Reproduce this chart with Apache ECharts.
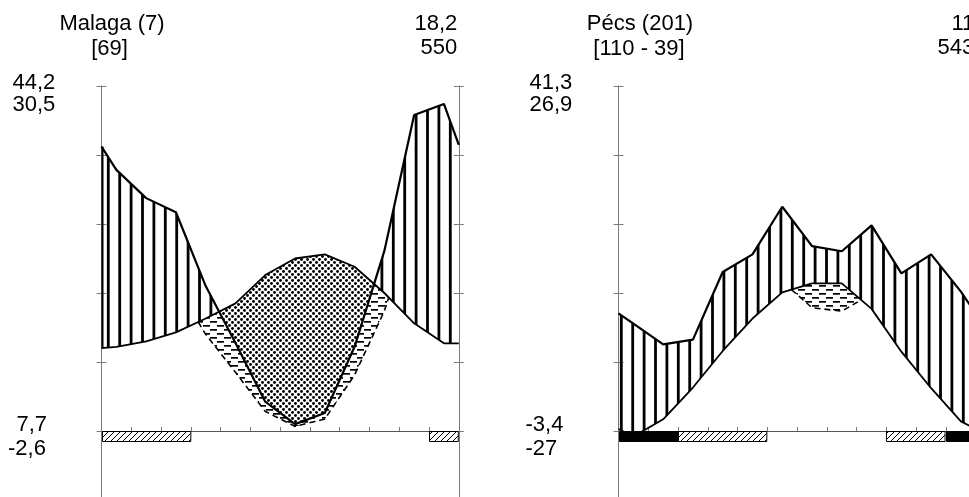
<!DOCTYPE html>
<html><head><meta charset="utf-8">
<script src="https://cdn.jsdelivr.net/npm/echarts@6/dist/echarts.min.js"></script>
<style>html,body{margin:0;padding:0;background:#fff}#c{width:969px;height:497px}</style>
</head><body><div id="c"></div>
<script>
// ---------- data ----------
const months = ['Jan','Feb','Mar','Apr','May','Jun','Jul','Aug','Sep','Oct','Nov','Dec'];
const tempTicks = [-10, 0, 10, 20, 30, 40, 50];

// Malaga
const malagaTemp = [12.2, 13.0, 14.3, 16.3, 18.5, 22.6, 25.0, 25.6, 23.8, 20.0, 15.6, 12.7];
const malagaTempEdges = [12.0, 12.7];
const malagaPrec = [75.7, 67.5, 63.4, 42.0, 25.5, 8.5, 2.0, 5.2, 24.4, 52.2, 91.6, 94.8];
const malagaPrecEdges = [82.4, 82.9];
const malagaFrostBlack = [0,0,0,0,0,0,0,0,0,0,0,0];
const malagaFrostHatched = [1,1,1,0,0,0,0,0,0,0,0,1];
const malagaHeader = ['Malaga (7)', '[69]'];
const malagaAnnual = ['18,2', '550'];
const malagaExtremes = ['44,2', '30,5', '7,7', '-2,6'];

// Pécs
const pecsTemp = [-0.8, 1.7, 6.3, 11.6, 16.3, 20.1, 21.4, 21.4, 17.7, 11.5, 6.2, 1.4];
const pecsTempEdges = [0.3, 0.3];
const pecsPrec = [31.1, 25.1, 26.5, 46.1, 51.2, 65.0, 53.6, 52.1, 59.6, 45.7, 51.2, 40.4];
const pecsPrecEdges = [34.1, 34.0];
const pecsFrostBlack = [1,1,0,0,0,0,0,0,0,0,0,1];
const pecsFrostHatched = [0,0,1,1,1,0,0,0,0,1,1,0];
const pecsHeader = ['Pécs (201)', '[110 - 39]'];
const pecsAnnual = ['11', '543'];
const pecsExtremes = ['41,3', '26,9', '-3,4', '-27'];

// ---------- patterns ----------
function mk(w, h, draw) { const c = document.createElement('canvas'); c.width = w; c.height = h; const g = c.getContext('2d'); draw(g); return c; }
const patV = mk(57, 8, g => { g.fillStyle = '#000'; for (let k = 0; k < 5; k++) { const cx = 5.7 + 11.4 * k; g.fillRect(cx - 1.4, 0, 2.8, 8); } });
const patDots = mk(6, 6, g => { g.fillStyle = '#000';
  [[1.5, 1.5], [4.5, 4.5]].forEach(p => { g.beginPath(); g.arc(p[0], p[1], 1.45, 0, Math.PI * 2); g.fill(); }); });
const patDash = mk(14, 8, g => { g.fillStyle = '#000'; g.fillRect(0, 1, 7, 1.7); g.fillRect(7, 5, 7, 1.7); });
const patDiag = mk(6, 6, g => { g.strokeStyle = '#000'; g.lineWidth = 1; g.beginPath(); g.moveTo(0, 6); g.lineTo(6, 0); g.moveTo(-1, 1); g.lineTo(1, -1); g.moveTo(5, 7); g.lineTo(7, 5); g.stroke(); });
const pat = c => ({ image: c, repeat: 'repeat' });

// ---------- geometry helpers ----------
function pts(vals, edges) { const p = [[0, edges[0]]]; vals.forEach((v, i) => p.push([i + 0.5, v])); p.push([months.length, edges[1]]); return p; }
function interp(curve, x) {
  for (let i = 0; i < curve.length - 1; i++) {
    const a = curve[i], b = curve[i + 1];
    if (x >= a[0] - 1e-12 && x <= b[0] + 1e-12) { const t = (x - a[0]) / (b[0] - a[0]); return a[1] + t * (b[1] - a[1]); }
  }
  return curve[curve.length - 1][1];
}
function breakpoints(curves) {
  const xs = curves[0].map(p => p[0]);
  const out = xs.slice();
  for (let i = 0; i < xs.length - 1; i++) {
    for (let a = 0; a < curves.length; a++) for (let b = a + 1; b < curves.length; b++) {
      const d0 = curves[a][i][1] - curves[b][i][1], d1 = curves[a][i + 1][1] - curves[b][i + 1][1];
      if (d0 * d1 < 0) { const t = d0 / (d0 - d1); out.push(xs[i] + t * (xs[i + 1] - xs[i])); }
    }
  }
  return out.sort((p, q) => p - q);
}
function regions(xs, top, bot) {
  const polys = [], bottoms = [];
  let run = null;
  for (let i = 0; i < xs.length - 1; i++) {
    const xm = (xs[i] + xs[i + 1]) / 2;
    const on = top(xm) - bot(xm) > 1e-9;
    if (on) { if (!run) run = [i, i + 1]; else run[1] = i + 1; }
    if ((!on || i === xs.length - 2) && run) {
      const tp = [], bp = [];
      for (let k = run[0]; k <= run[1]; k++) { tp.push([xs[k], top(xs[k])]); bp.push([xs[k], bot(xs[k])]); }
      polys.push(tp.concat(bp.slice().reverse()));
      bottoms.push(bp);
      run = null;
    }
  }
  return { polys, bottoms };
}
function runsOf(flags) {
  const r = []; let s = -1;
  flags.forEach((f, i) => { if (f && s < 0) s = i; if ((!f || i === flags.length - 1) && s >= 0) { r.push([s, f ? i + 1 : i]); s = -1; } });
  return r;
}

// ---------- panels ----------
const axisCol = '#7a7a7a';
const FONT = '22px "Liberation Sans", Arial, sans-serif';
const option = { animation: false, backgroundColor: '#fff', grid: [], xAxis: [], yAxis: [], series: [], graphic: [] };

function addPanel(p, left, d) {
  const W = 357.3, TOP = 86, H = 345, HB = 414;
  const T = pts(d.temp, d.tempEdges);
  const P2 = pts(d.prec.map(v => v / 2), d.precEdges.map(v => v / 2));   // 10 °C = 20 mm
  const P3 = pts(d.prec.map(v => v / 3), d.precEdges.map(v => v / 3));   // 10 °C = 30 mm
  const xs = breakpoints([T, P2, P3]);
  const fT = x => interp(T, x), fP2 = x => interp(P2, x), fP3 = x => interp(P3, x);
  const humid = regions(xs, fP2, fT);
  const dry = regions(xs, fT, fP2);
  const semi = regions(xs, x => Math.min(fT(x), fP2(x)), fP3);

  const gA = 2 * p, gB = 2 * p + 1, yA = 5 * p;
  option.grid.push({ left: left, top: TOP, width: W, height: H, outerBoundsMode: 'none' });
  option.grid.push({ left: left, top: TOP, width: W, height: HB, outerBoundsMode: 'none' });
  option.xAxis.push({ type: 'value', gridIndex: gA, min: 0, max: 12, interval: 1,
    axisLine: { show: true, onZero: false, lineStyle: { color: '#555', width: 1 } },
    axisTick: { show: true, inside: true, length: 4, lineStyle: { color: axisCol } },
    axisLabel: { show: false }, splitLine: { show: false } });
  option.xAxis.push({ type: 'value', gridIndex: gB, min: 0, max: 12, show: false });
  option.yAxis.push({ type: 'value', gridIndex: gA, min: 0, max: 50, interval: 10, show: false });
  const yAx = (pos, inside, line) => ({ type: 'value', gridIndex: gB, position: pos, offset: 0,
    min: tempTicks[0], max: tempTicks[tempTicks.length - 1], interval: 10,
    axisLine: { show: line, onZero: false, lineStyle: { color: axisCol, width: 1 } },
    axisTick: { show: true, inside: inside, length: 5, lineStyle: { color: axisCol, width: 1 } },
    axisLabel: { show: false }, splitLine: { show: false } });
  option.yAxis.push(yAx('left', false, true), yAx('left', true, false), yAx('right', false, true), yAx('right', true, false));

  option.series.push({
    type: 'custom', xAxisIndex: gA, yAxisIndex: yA, clip: true, silent: true, data: [[0, 0]],
    renderItem: (params, api) => {
      const c = q => q.map(pt => api.coord(pt));
      const ch = [];
      humid.polys.forEach(poly => ch.push({ type: 'polygon', shape: { points: c(poly) }, style: { fill: pat(patV) } }));
      dry.polys.forEach(poly => ch.push({ type: 'polygon', shape: { points: c(poly) }, style: { fill: pat(patDots) } }));
      semi.polys.forEach(poly => ch.push({ type: 'polygon', shape: { points: c(poly) }, style: { fill: pat(patDash) } }));
      semi.bottoms.forEach(b => ch.push({ type: 'polyline', shape: { points: c(b) }, style: { stroke: '#000', lineWidth: 1.6, lineDash: [6, 4], fill: null } }));
      if (d.edgeStroke && fP2(0) > fT(0)) {
        const a = api.coord([0, fT(0)]), b = api.coord([0, fP2(0)]);
        ch.push({ type: 'line', shape: { x1: a[0] + 1, y1: a[1], x2: b[0] + 1, y2: b[1] }, style: { stroke: '#000', lineWidth: 2 } });
      }
      return { type: 'group', children: ch };
    }
  });
  option.series.push({ type: 'line', xAxisIndex: gA, yAxisIndex: yA, data: T, symbol: 'none', clip: true, silent: true,
    lineStyle: { color: '#000', width: 1.8 } });
  option.series.push({ type: 'line', xAxisIndex: gA, yAxisIndex: yA, data: P2, symbol: 'none', clip: true, silent: true,
    lineStyle: { color: '#000', width: 2.2 } });

  const bars = runsOf(d.black).map(r => [r[0], r[1], 1]).concat(runsOf(d.hatched).map(r => [r[0], r[1], 0]));
  option.series.push({
    type: 'custom', xAxisIndex: gB, yAxisIndex: yA + 1, clip: false, silent: true, data: bars,
    renderItem: (params, api) => {
      const a = api.coord([api.value(0), 0]), b = api.coord([api.value(1), 0]);
      return { type: 'rect', shape: { x: Math.round(a[0]) + 0.5, y: Math.round(a[1]) + 0.5, width: b[0] - a[0] - 1, height: 10 },
        style: { fill: api.value(2) ? '#000' : pat(patDiag), stroke: '#000', lineWidth: 1 } };
    }
  });

  const txt = (s, x, y, align) => ({ type: 'text', x: x, y: y, silent: true,
    style: { text: s, font: FONT, fill: '#000', align: align, verticalAlign: 'middle', textAlign: align, textVerticalAlign: 'middle' } });
  option.graphic.push(
    txt(d.header[0], d.titleX[0], 24, 'center'),
    txt(d.header[1], d.titleX[1], 49, 'center'),
    txt(d.annual[0], left + W - 1.5, 24, 'right'),
    txt(d.annual[1], left + W - 1.5, 48, 'right'),
    txt(d.extremes[0], left - 89, 82.5, 'left'),
    txt(d.extremes[1], left - 89, 104.5, 'left'),
    txt(d.extremes[2], left - d.lowOffsets[0], 424.5, 'left'),
    txt(d.extremes[3], left - d.lowOffsets[1], 448.5, 'left')
  );
}

addPanel(0, 101.5, { temp: malagaTemp, tempEdges: malagaTempEdges, prec: malagaPrec, precEdges: malagaPrecEdges,
  black: malagaFrostBlack, hatched: malagaFrostHatched, header: malagaHeader, annual: malagaAnnual, extremes: malagaExtremes,
  titleX: [112, 109.5], lowOffsets: [85, 93.5], edgeStroke: true });
addPanel(1, 618.5, { temp: pecsTemp, tempEdges: pecsTempEdges, prec: pecsPrec, precEdges: pecsPrecEdges,
  black: pecsFrostBlack, hatched: pecsFrostHatched, header: pecsHeader, annual: pecsAnnual, extremes: pecsExtremes,
  titleX: [640, 639], lowOffsets: [93, 93], edgeStroke: false });

const chart = echarts.init(document.getElementById('c'), null, { renderer: 'canvas' });
chart.setOption(option);
</script>
</body></html>
